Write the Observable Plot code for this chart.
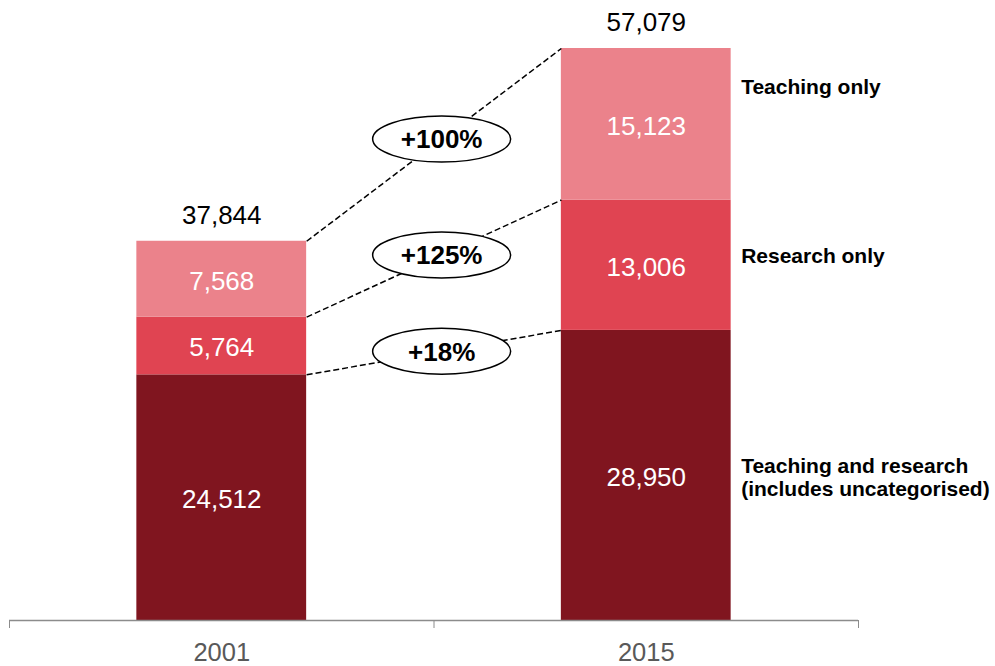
<!DOCTYPE html>
<html>
<head>
<meta charset="utf-8">
<script src="https://cdn.jsdelivr.net/npm/d3@7"></script>
<script src="https://cdn.jsdelivr.net/npm/@observablehq/plot@0.6"></script>
<style>
  html, body { margin: 0; padding: 0; background: white; }
  #chart { width: 995px; height: 666px; }
</style>
</head>
<body>
<div id="chart"></div>
<script>
// ---- data ----
const years = ["2001", "2015"];
const categories = ["Teaching and research", "Research only", "Teaching only"];
const teachingResearch = [24512, 28950];
const researchOnly = [5764, 13006];
const teachingOnly = [7568, 15123];
const totals = [37844, 57079];
const changes = ["+18%", "+125%", "+100%"];
const seriesLabels = ["Teaching and research\n(includes uncategorised)", "Research only", "Teaching only"];
const colors = ["#80151f", "#e04452", "#eb828b"];

// ---- derived table ----
const series = [teachingResearch, researchOnly, teachingOnly];
const rows = [];
years.forEach((year, i) => {
  let base = 0;
  categories.forEach((cat, j) => {
    const v = series[j][i];
    rows.push({i, year, cat, value: v, y1: base, y2: base + v});
    base += v;
  });
});
const tops = categories.map((cat, j) => years.map((y, i) => rows.find(r => r.i === i && r.cat === cat).y2));
const links = categories.map((cat, j) => ({cat, label: changes[j], y1: tops[j][0], y2: tops[j][1]}));
const yearRows = years.map((year, i) => ({i, year, total: totals[i]}));
const last = years.length - 1;
const labelRows = categories.map((cat, j) => {
  const r = rows.find(d => d.i === last && d.cat === cat);
  return {cat, text: seriesLabels[j], mid: (r.y1 + r.y2) / 2};
});

const hw = 0.2;     // half bar width (in band units)
const t = 0.53;     // position of the change badge along its connector
const font = "'Liberation Sans', Arial, Helvetica, sans-serif";

const ellipse = {
  draw(ctx) {
    const rx = 69, ry = 23, k = 0.5523;
    ctx.moveTo(rx, 0);
    ctx.bezierCurveTo(rx, ry * k, rx * k, ry, 0, ry);
    ctx.bezierCurveTo(-rx * k, ry, -rx, ry * k, -rx, 0);
    ctx.bezierCurveTo(-rx, -ry * k, -rx * k, -ry, 0, -ry);
    ctx.bezierCurveTo(rx * k, -ry, rx, -ry * k, rx, 0);
    ctx.closePath();
  }
};

const lx1 = 0.5 + hw, lx2 = 1.5 - hw;
const badgeX = d => lx1 + t * (lx2 - lx1);
const badgeY = d => d.y1 + t * (d.y2 - d.y1);

const chart = Plot.plot({
  width: 995,
  height: 666,
  marginLeft: 9,
  marginRight: 137,
  marginTop: 48,
  marginBottom: 46,
  style: {fontFamily: font, background: "white", color: "#8c8c8c"},
  x: {domain: [0, 2], ticks: [0, 1, 2], tickSize: 8, tickFormat: () => "", label: null},
  y: {domain: [0, totals[1]], axis: null},
  color: {domain: categories, range: colors},
  marks: [
    Plot.rectY(rows, {
      x1: d => d.i + 0.5 - hw, x2: d => d.i + 0.5 + hw,
      y1: "y1", y2: "y2", fill: "cat"
    }),
    Plot.ruleY([0], {x1: 0, x2: 2, stroke: "#8c8c8c", strokeWidth: 1.5}),
    Plot.link(links, {
      x1: () => lx1, x2: () => lx2, y1: "y1", y2: "y2",
      stroke: "black", strokeWidth: 1.5, strokeDasharray: "6,3"
    }),
    Plot.dot(links, {
      x: badgeX, y: badgeY, symbol: ellipse,
      fill: "white", stroke: "black", strokeWidth: 1.5
    }),
    Plot.text(links, {
      x: badgeX, y: badgeY, text: "label", dy: 1,
      fontSize: 26, fontWeight: "bold", fill: "black"
    }),
    // in-bar value labels
    Plot.text(rows, {
      x: d => d.i + 0.5, y: d => (d.y1 + d.y2) / 2, dy: 2,
      text: d => d3.format(",")(d.value),
      fontSize: 26, fill: "white"
    }),
    // totals
    Plot.text(yearRows, {
      x: d => d.i + 0.5, y: "total", dy: -26,
      text: d => d3.format(",")(d.total),
      fontSize: 26, fill: "black"
    }),
    // year labels
    Plot.text(yearRows, {
      x: d => d.i + 0.5, y: () => 0, dy: 32,
      text: "year", fontSize: 25.5, fill: "#595959"
    }),
    // series labels on the right
    Plot.text(labelRows.filter(d => d.cat === categories[2]), {
      x: () => last + 0.5 + hw, y: "mid", dx: 10, dy: -37, text: "text",
      textAnchor: "start", fontSize: 21, fontWeight: "bold", fill: "black"
    }),
    Plot.text(labelRows.filter(d => d.cat === categories[1]), {
      x: () => last + 0.5 + hw, y: "mid", dx: 10, dy: -9, text: "text",
      textAnchor: "start", fontSize: 21, fontWeight: "bold", fill: "black"
    }),
    Plot.text(labelRows.filter(d => d.cat === categories[0]), {
      x: () => last + 0.5 + hw, y: "mid", dx: 10, dy: 2, text: "text",
      textAnchor: "start", fontSize: 21, fontWeight: "bold", fill: "black",
      lineHeight: 1.07, lineAnchor: "middle"
    })
  ]
});
document.getElementById("chart").appendChild(chart);
</script>
</body>
</html>
